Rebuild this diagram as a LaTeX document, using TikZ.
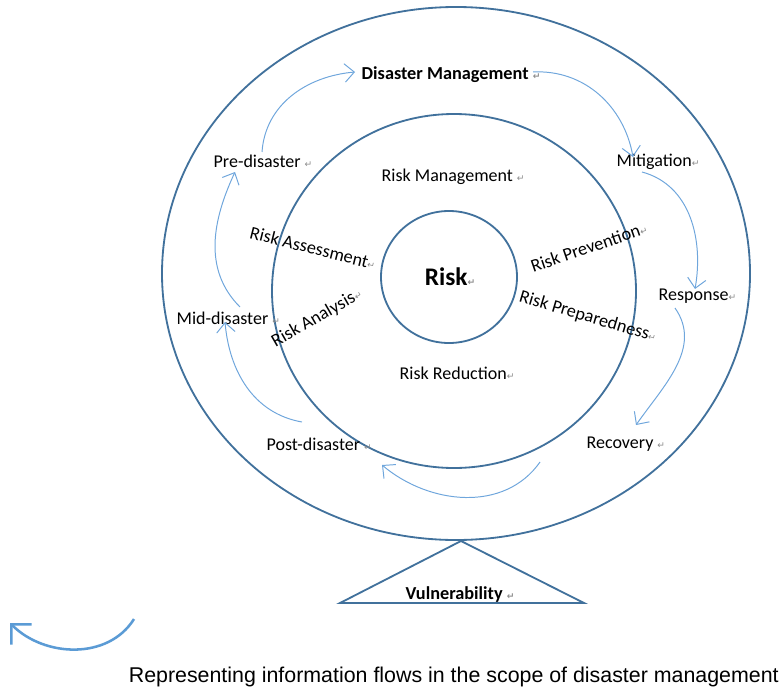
\documentclass[tikz,border=0pt]{standalone}
\usepackage{fontspec}
\setmainfont{Carlito}
\newfontfamily\capfont{Liberation Sans}
\newfontfamily\markfont{DejaVu Sans}
\usetikzlibrary{arrows.meta}
\definecolor{ringblue}{HTML}{41719C}
\definecolor{flowblue}{HTML}{6FA6DC}
\definecolor{keyblue}{HTML}{5B9BD5}
\newcommand{\pmark}{{\markfont\fontsize{6.5}{7}\selectfont\textcolor{black!45}{↵}}}

\begin{document}
\begin{tikzpicture}[x=0.025cm, y=-0.025cm]
		
		% Define custom styles for rings, labels and flows
		\tikzstyle{ring} = [draw=ringblue, line width=1.3pt]
		\tikzstyle{phase} = [inner sep=1pt, anchor=west, font=\fontsize{12.8}{15}\selectfont]
		\tikzstyle{headphase} = [phase, font=\fontsize{13}{15}\selectfont\bfseries]
		\tikzstyle{arc} = [inner sep=1pt, font=\fontsize{13}{15}\selectfont]
		\tikzstyle{flow} = [draw=flowblue, line width=0.7pt, 
		-{Straight Barb[length=2.4mm, width=4.6mm]}]
		
		\useasboundingbox (0,0) rectangle (780,689);
		
		% Rings and base
		\draw[ring] (456,273.5) ellipse [x radius=294, y radius=266.5];
		\draw[ring] (454,291) ellipse [x radius=182, y radius=177];
		\draw[ring] (449,277) ellipse [x radius=68, y radius=66];
		\draw[ring] (340,603) -- (461,541) -- (584,603) -- cycle;
		
		% Outer ring: disaster phases
		\node[headphase] (dm) at (360,75) {Disaster Management \pmark};
		\node[phase] (pre) at (212,161) {Pre-disaster \pmark};
		\node[phase] (mit) at (615,162) {Mitigation\pmark};
		\node[phase] (resp) at (657,296) {Response\pmark};
		\node[phase] (recov) at (585,444) {Recovery \pmark};
		\node[phase] (post) at (265,444) {Post-disaster \pmark};
		\node[phase] (mid) at (175,318) {Mid-disaster \pmark};
		
		% Middle ring: risk management
		\node[phase] (rmgmt) at (380,177) {Risk Management \pmark};
		\node[phase] (rred) at (398,373) {Risk Reduction\pmark};
		\node[arc, rotate=-14] (rass) at (313,248) {Risk Assessment\pmark};
		\node[arc, rotate=30] (rana) at (317,318) {Risk Analysis\pmark};
		\node[arc, rotate=19] (rprev) at (589,247) {Risk Prevention\pmark};
		\node[arc, rotate=-16.5] (rprep) at (588,317) {Risk Preparedness\pmark};
		
		% Core and base
		\node[inner sep=1pt, font=\fontsize{18}{20}\selectfont\bfseries] (risk) at (450,277) {Risk\pmark};
		\node[headphase] (vuln) at (404,595) {Vulnerability \pmark};
		
		% Flows between phases
		\draw[flow] ([shift={(50,-9)}]pre.west) to[out=86, in=185] ([shift={(-5,-3)}]dm.west);
		\draw[flow] ([shift={(173,-3)}]dm.west) to[out=3, in=100] ([shift={(18,-5)}]mit.west);
		\draw[flow] ([shift={(27,10)}]mit.west) to[out=-15, in=80] ([shift={(38,-7)}]resp.west);
		\draw[flow] ([shift={(18,12)}]resp.west) to[out=-55, in=55] ([shift={(51,-19)}]recov.west);
		\draw[flow] ([shift={(-45,18)}]recov.west) to[out=-125, in=-40] ([shift={(117,21)}]post.west);
		\draw[flow] ([shift={(37,-22)}]post.west) to[out=170, in=-85] ([shift={(50,4)}]mid.west);
		\draw[flow] ([shift={(65,-11)}]mid.west) to[out=135, in=-115] ([shift={(23,11)}]pre.west);
		
		% Key
		\coordinate (keyfrom) at (134,619);
		\coordinate (keyto) at (10,623);
		\draw[keyblue, line width=1.8pt, -{Straight Barb[length=3.6mm, width=7.2mm]}] 
		(keyfrom) to[out=-122, in=-45] (keyto);
		\node[inner sep=0pt, anchor=east, font=\capfont\fontsize{15.2}{17}\selectfont] (caption) at (779,677)
		{Representing information flows in the scope of disaster management};
		
	\end{tikzpicture}
\end{document}
